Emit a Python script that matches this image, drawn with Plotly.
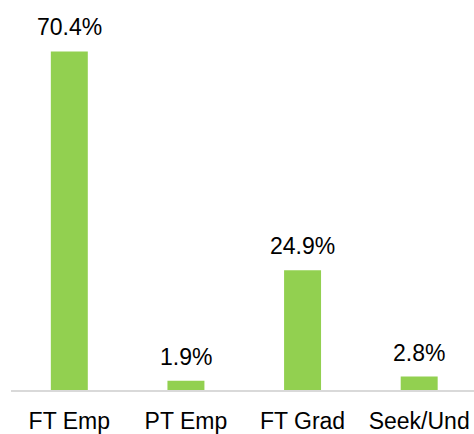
import plotly.graph_objects as go

categories = ["FT Emp", "PT Emp", "FT Grad", "Seek/Und"]
shares = [70.4, 1.9, 24.9, 2.8]
share_labels = ["70.4%", "1.9%", "24.9%", "2.8%"]

fig = go.Figure()

fig.add_trace(
    go.Bar(
        x=categories,
        y=shares,
        marker=dict(color="#92D050", line=dict(width=0)),
        width=0.317,
        hoverinfo="skip",
    )
)

for cat, val, lab in zip(categories, shares, share_labels):
    fig.add_annotation(
        x=cat, y=val, text=lab, showarrow=False,
        yanchor="bottom", yshift=9,
        font=dict(family="Liberation Sans, Arial", size=23, color="#000000"),
    )

fig.update_layout(
    width=474,
    height=434,
    margin=dict(l=11, r=0, t=0, b=42),
    plot_bgcolor="white",
    paper_bgcolor="white",
    showlegend=False,
    font=dict(family="Liberation Sans, Arial", size=23, color="#000000"),
    xaxis=dict(
        range=[-0.5, 3.47],
        showline=True,
        linecolor="#D9D9D9",
        linewidth=1.5,
        ticks="",
        ticklabelstandoff=10,
        showgrid=False,
        tickfont=dict(size=23, color="#000000"),
    ),
    yaxis=dict(
        range=[0, 81.1],
        visible=False,
        showgrid=False,
        zeroline=False,
    ),
)

# drop the default page margin so the figure fills the window exactly
fig.write_html(
    "out.html",
    config={"displayModeBar": False},
    post_script="document.body.style.margin='0';document.body.style.overflow='hidden';",
)
